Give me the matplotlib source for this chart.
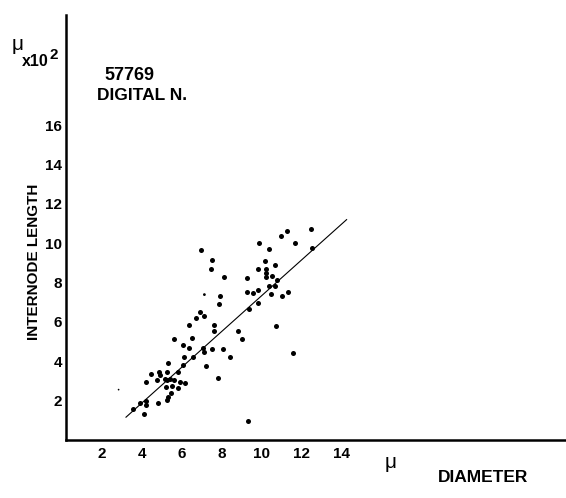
import numpy as np
import matplotlib
matplotlib.use('Agg')
import matplotlib.pyplot as plt

plt.rcParams['font.family'] = ['Liberation Sans', 'DejaVu Sans']

# diameter (micron) and internode length (micron x 10^2)
diameter = [6.94, 7.50, 7.47, 8.10, 9.85, 9.80, 9.25, 7.90, 7.87, 9.27,
            9.57, 9.78, 9.78, 9.35, 6.90, 7.10, 6.68, 6.37, 7.58, 7.59,
            8.78, 8.98, 5.58, 6.50, 6.07, 6.35, 7.07, 7.09, 7.48, 8.07,
            6.10, 6.53, 8.40, 5.31, 6.07, 7.19, 4.44, 4.86, 4.90, 5.24,
            5.82, 4.75, 5.13, 5.25, 5.40, 4.19, 5.60, 5.92, 6.13, 5.48,
            5.78, 5.18, 5.45, 5.29, 5.24, 7.81, 4.78, 3.90, 4.20, 4.18,
            3.57, 4.12, 9.29, 12.43, 11.24, 10.93, 11.67, 12.50, 10.36, 10.14,
            10.20, 10.22, 10.22, 10.64, 10.49, 10.74, 10.36, 10.66, 10.45, 11.02,
            11.28, 10.70, 11.57]
length = [9.64, 9.13, 8.71, 8.28, 10.01, 8.71, 8.22, 7.34, 6.91, 7.51,
          7.49, 7.61, 6.96, 6.67, 6.50, 6.32, 6.22, 5.86, 5.83, 5.56,
          5.56, 5.12, 5.15, 5.17, 4.82, 4.66, 4.66, 4.47, 4.60, 4.64,
          4.24, 4.22, 4.24, 3.93, 3.80, 3.75, 3.37, 3.45, 3.28, 3.45,
          3.46, 3.03, 3.11, 3.03, 3.11, 2.94, 3.03, 2.94, 2.88, 2.75,
          2.62, 2.69, 2.39, 2.21, 2.01, 3.13, 1.86, 1.87, 1.96, 1.76,
          1.59, 1.33, 0.97, 10.71, 10.63, 10.37, 10.00, 9.77, 9.69, 9.08,
          8.70, 8.51, 8.27, 8.87, 8.36, 8.12, 7.81, 7.81, 7.43, 7.32,
          7.51, 5.81, 4.42]

# faint small dots
small_x = [7.12, 2.83]
small_y = [7.39, 2.56]

# regression line end points
fit_x = [3.2, 14.23]
fit_y = [1.16, 11.2]

x_ticks = [2, 4, 6, 8, 10, 12, 14]
y_ticks = [2, 4, 6, 8, 10, 12, 14, 16]

fig = plt.figure(figsize=(5.66, 4.98), dpi=100)
ax = fig.add_axes([66 / 566, 58 / 498, 500 / 566, 425 / 498])

ax.scatter(diameter, length, s=13, c='black', linewidths=0)
ax.scatter(small_x, small_y, s=[4, 1.5], c='black', linewidths=0)
ax.plot(fit_x, fit_y, color='black', lw=0.8)

ax.set_xlim(0.2, 25.2)
ax.set_ylim(0, 21.6)

for s in ['top', 'right']:
    ax.spines[s].set_visible(False)
for s in ['left', 'bottom']:
    ax.spines[s].set_linewidth(1.8)

ax.set_xticks(x_ticks)
ax.set_yticks(y_ticks)
ax.tick_params(axis='x', length=0, pad=5, labelsize=11)
ax.tick_params(axis='y', length=0, pad=3, labelsize=11)
for lab in ax.get_xticklabels() + ax.get_yticklabels():
    lab.set_fontweight('bold')

fig.text(34 / 566, 1 - 262 / 498, 'INTERNODE LENGTH', rotation=90,
         ha='center', va='center', fontsize=11, fontweight='bold')
fig.text(12 / 566, 1 - 45 / 498, 'μ', fontsize=15, ha='left', va='center')
fig.text(22 / 566, 1 - 61 / 498, 'x10', fontsize=11.5, ha='left',
         va='center', fontweight='bold')
fig.text(49 / 566, 1 - 55 / 498, '2', fontsize=11, ha='left',
         va='center', fontweight='bold')
fig.text(104 / 566, 1 - 75 / 498, '57769', fontsize=13, ha='left',
         va='center', fontweight='bold')
fig.text(97 / 566, 1 - 96 / 498, 'DIGITAL N.', fontsize=12.5, ha='left',
         va='center', fontweight='bold')
fig.text(391 / 566, 1 - 462 / 498, 'μ', fontsize=15, ha='center', va='center')
fig.text(438 / 566, 1 - 478 / 498, 'DIAMETER', fontsize=12.5, ha='left',
         va='center', fontweight='bold')

fig.savefig('out.png', dpi=100)
